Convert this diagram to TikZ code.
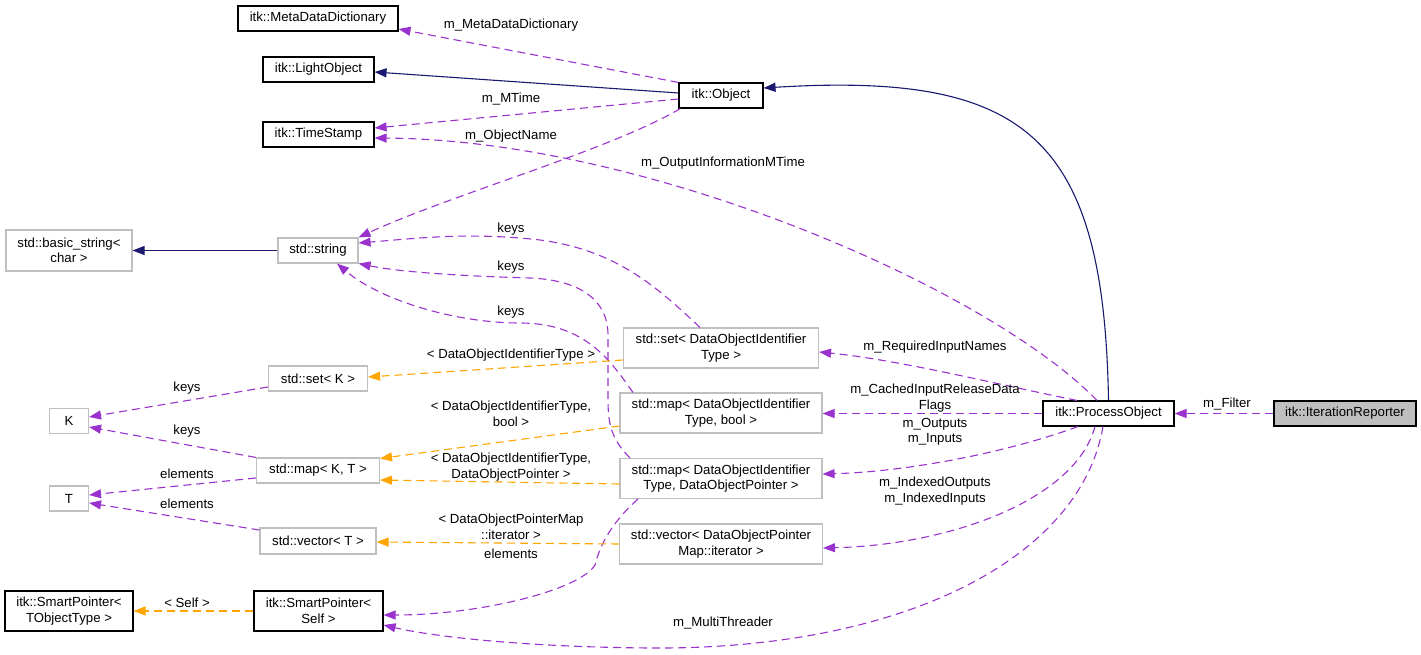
\documentclass[tikz,border=0pt]{standalone}
\usepackage{fontspec}
\setmainfont{Liberation Sans}
\usetikzlibrary{arrows.meta}
\definecolor{navyc}{HTML}{191970}
\definecolor{purpc}{HTML}{9A32CD}
\definecolor{orngc}{HTML}{FFA500}
\definecolor{grayb}{HTML}{BFBFBF}
\begin{document}
\begin{tikzpicture}[x=1pt,y=-1pt,
  font=\fontsize{13.2}{15.5}\selectfont,
  cls/.style={draw=black, line width=1.1pt, inner sep=0pt, align=center, fill=white},
  ext/.style={draw=grayb, line width=1.1pt, inner sep=0pt, align=center, fill=white},
  lbl/.style={inner sep=0pt, align=center},
  tip/.style={-{Triangle[length=12pt,width=9pt]}},
  inh/.style={draw=navyc, line width=1.1pt, tip},
  use/.style={draw=purpc, line width=1.1pt, dash pattern=on 8pt off 5pt, tip},
  tpl/.style={draw=orngc, line width=1.1pt, dash pattern=on 8pt off 5pt, tip}]
\useasboundingbox (0,0) rectangle (1421,655);
% nodes
\node[cls, minimum width=160pt, minimum height=25pt] (mdd) at (318,18.5) {itk::MetaDataDictionary};
\node[cls, minimum width=111pt, minimum height=25pt] (light) at (318.5,69.5) {itk::LightObject};
\node[cls, minimum width=111pt, minimum height=25pt] (ts) at (318.5,134.5) {itk::TimeStamp};
\node[cls, minimum width=84pt, minimum height=25pt] (obj) at (721,95.5) {itk::Object};
\node[ext, minimum width=126pt, minimum height=41pt] (bstr) at (69,250.5) {std::basic\_string<\\char >};
\node[ext, minimum width=80pt, minimum height=25pt] (str) at (318,250.5) {std::string};
\node[ext, minimum width=99pt, minimum height=25pt] (setK) at (318,378.5) {std::set< K >};
\node[ext, minimum width=39pt, minimum height=25pt] (K) at (69,421) {K};
\node[ext, minimum width=123pt, minimum height=25pt] (mapKT) at (318,470.5) {std::map< K, T >};
\node[ext, minimum width=39pt, minimum height=25pt] (T) at (69,498.5) {T};
\node[ext, minimum width=116pt, minimum height=26pt] (vecT) at (318,541) {std::vector< T >};
\node[cls, minimum width=128pt, minimum height=40pt] (spT) at (69,611) {itk::SmartPointer<\\TObjectType >};
\node[cls, minimum width=129pt, minimum height=40pt] (spS) at (318.5,611) {itk::SmartPointer<\\Self >};
\node[ext, minimum width=195pt, minimum height=40pt] (setD) at (721,348) {std::set< DataObjectIdentifier\\Type >};
\node[ext, minimum width=202pt, minimum height=40pt] (mapB) at (721,413) {std::map< DataObjectIdentifier\\Type, bool >};
\node[ext, minimum width=202pt, minimum height=40pt] (mapP) at (721,478.5) {std::map< DataObjectIdentifier\\Type, DataObjectPointer >};
\node[ext, minimum width=203pt, minimum height=40pt] (vecP) at (721,544) {std::vector< DataObjectPointer\\Map::iterator >};
\node[cls, minimum width=131pt, minimum height=25pt] (po) at (1108.5,413.5) {itk::ProcessObject};
\node[cls, fill=grayb, minimum width=142pt, minimum height=25pt] (ir) at (1345,413.5) {itk::IterationReporter};

% inheritance
\draw[inh] (bstr.east -| str.west) -- (bstr.east);
\draw[inh] ([yshift=2.5pt]obj.west) -- ([yshift=-2.5pt]light.east);
\draw[inh] (po.north) .. controls (1104,135) and (1025,72) .. ([yshift=7.5pt]obj.east);

% usage
\draw[use] (obj.north west) -- ([yshift=-10.5pt]mdd.east);
\draw[use] ([yshift=-3.5pt]obj.west) -- ([yshift=6.5pt]ts.east);
\draw[use] ([xshift=-11.5pt]po.north) .. controls (990,290) and (650,140) .. ([yshift=-3.5pt]ts.east);
\draw[use] ([xshift=2pt]obj.south west) .. controls (610,150) and (450,195) .. (str.north east);
\draw[use] ([xshift=-21pt]setD.north) .. controls (655,285) and (615,250) .. (540,240) .. controls (470,232) and (420,238) .. ([yshift=7.5pt]str.east);
\draw[use] ([xshift=-91pt]mapP.north) .. controls (612,440) and (608,425) .. (608,400) -- (608,335) .. controls (608,300) and (580,280) .. (530,278) .. controls (460,276) and (400,272) .. (str.south east);
\draw[use] ([xshift=-88pt]mapB.north) .. controls (610,360) and (585,323) .. (520,323) .. controls (455,323) and (380,300) .. ([xshift=19pt]str.south);
\draw[use] ([yshift=-8.5pt]setK.west) -- ([yshift=4pt]K.east);
\draw[use] (mapKT.north west) -- ([yshift=-6pt]K.east);
\draw[use] ([yshift=-7.5pt]mapKT.west) -- ([yshift=3.5pt]T.east);
\draw[use] ([yshift=11pt]vecT.west) -- ([yshift=-4.5pt]T.east);
\draw[use] ([xshift=-83pt]mapP.south) .. controls (612,522) and (600,545) .. (595,565) .. controls (580,590) and (480,615) .. ([yshift=-4pt]spS.east);
\draw[use] ([xshift=-5.5pt]po.south) .. controls (1080,560) and (900,650) .. (650,648) .. controls (520,647) and (430,636) .. ([yshift=-14pt]spS.east);
\draw[use] ([xshift=-31.5pt]po.north) .. controls (1000,385) and (900,360) .. ([yshift=-4pt]setD.east);
\draw[use] (po.west) -- (po.west -| mapB.east);
\draw[use] ([xshift=-30.5pt]po.south) .. controls (1000,455) and (900,472) .. ([yshift=4.5pt]mapP.east);
\draw[use] ([xshift=-13.5pt]po.south) .. controls (1075,500) and (950,545) .. ([yshift=-4pt]vecP.east);
\draw[use] (ir.west) -- (po.east);

% template instantiation
\draw[tpl] ([yshift=-12pt]setD.west) -- ([yshift=1.5pt]setK.east);
\draw[tpl] ([yshift=-13pt]mapB.west) -- ([yshift=12pt]mapKT.east);
\draw[tpl] ([yshift=-5.5pt]mapP.west) -- ([yshift=-9.5pt]mapKT.east);
\draw[tpl] (vecP.west) -- ([yshift=-1pt]vecT.east);
\draw[tpl] (spS.west) -- (spT.east);

% labels
\node[lbl] (l1) at (511,25) {m\_MetaDataDictionary};
\node[lbl] (l2) at (511,99) {m\_MTime};
\node[lbl] (l3) at (511,136) {m\_ObjectName};
\node[lbl] (l4) at (723,163) {m\_OutputInformationMTime};
\node[lbl] (l5) at (511,229) {keys};
\node[lbl] (l6) at (511,267) {keys};
\node[lbl] (l7) at (511,312) {keys};
\node[lbl] (l8) at (511,355) {< DataObjectIdentifierType >};
\node[lbl] (l9) at (511,414) {< DataObjectIdentifierType,\\bool >};
\node[lbl] (l10) at (511,467) {< DataObjectIdentifierType,\\DataObjectPointer >};
\node[lbl] (l11) at (511,527) {< DataObjectPointerMap\\::iterator >};
\node[lbl] (l12) at (511,554) {elements};
\node[lbl] (l13) at (723,623) {m\_MultiThreader};
\node[lbl] (l14) at (187,388) {keys};
\node[lbl] (l15) at (187,431) {keys};
\node[lbl] (l16) at (187,474) {elements};
\node[lbl] (l17) at (187,504) {elements};
\node[lbl] (l18) at (187,603) {< Self >};
\node[lbl] (l19) at (935,347) {m\_RequiredInputNames};
\node[lbl] (l20) at (935,398) {m\_CachedInputReleaseData\\Flags};
\node[lbl] (l21) at (935,432) {m\_Outputs\\m\_Inputs};
\node[lbl] (l22) at (935,491) {m\_IndexedOutputs\\m\_IndexedInputs};
\node[lbl] (l23) at (1227,404) {m\_Filter};
\end{tikzpicture}
\end{document}
